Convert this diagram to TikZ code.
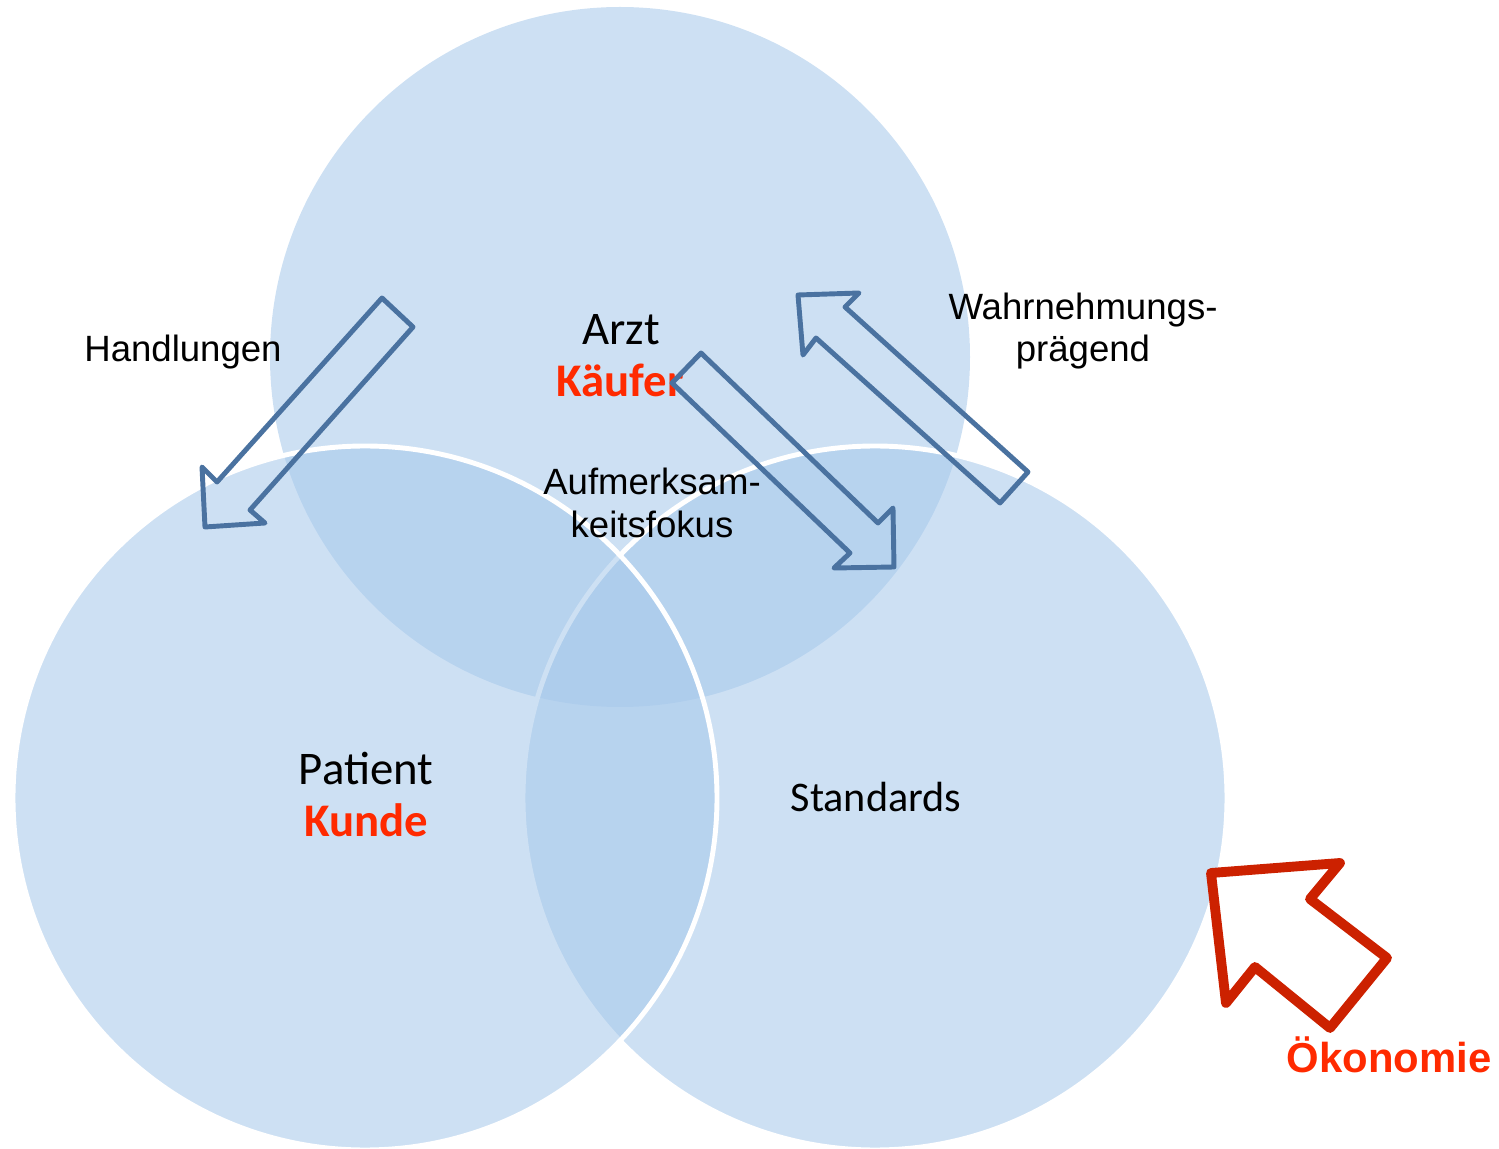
\documentclass[tikz,border=0pt]{standalone}
\usepackage{fontspec}
\setmainfont{Liberation Sans}
\newfontfamily\calibri{Carlito}
\usetikzlibrary{positioning}
\definecolor{vennblue}{RGB}{166,200,234}
\definecolor{arrowblue}{HTML}{4A72A0}
\definecolor{textred}{HTML}{FF2A00}
\definecolor{arrowred}{HTML}{CC2100}

\tikzset{
  lbl/.style={font=\fontsize{10.4}{12}\selectfont, inner sep=0pt, anchor=base},
  rolename/.style={font=\calibri\fontsize{13.3}{16}\selectfont, inner sep=0pt, anchor=base},
  rolered/.style={font=\calibri\bfseries\fontsize{13.3}{16}\selectfont, text=textred, inner sep=0pt, anchor=base},
  blockarrow/.style={draw=arrowblue, line width=1.4pt, line join=round},
  redarrow/.style={draw=arrowred, line width=2.8pt, line join=round}
}

\begin{document}
\begin{tikzpicture}[x=0.01cm, y=-0.01cm]
    \useasboundingbox (0,0) rectangle (1499,1149);

    % Circles: top, right, left
    \fill[vennblue, fill opacity=0.56] (620,357) circle (350);
    \filldraw[fill=vennblue, fill opacity=0.56, draw=white, line width=1.4pt] (875,798) circle (352);
    \filldraw[fill=vennblue, fill opacity=0.56, draw=white, line width=1.4pt] (365,798) circle (352);

    % Labels
    \node[lbl] (handlungen) at (183,362) {Handlungen};
    \node[rolename] (arzt) at (621,345) {Arzt};
    \node[rolered] (kaeufer) at (620,397) {Käufer};
    \node[lbl] (aufm) at (652,495) {Aufmerksam-};
    \node[lbl] (fokus) at (652,538) {keitsfokus};
    \node[lbl] (wahrn) at (1083,320) {Wahrnehmungs-};
    \node[lbl] (praegend) at (1083,362) {prägend};
    \node[rolename] (patient) at (366,785) {Patient};
    \node[rolered] (kunde) at (366,837) {Kunde};
    \node[rolename, font=\calibri\fontsize{12}{14}\selectfont] (standards) at (876,812) {Standards};
    \node[lbl, font=\bfseries\fontsize{11.9}{14}\selectfont, text=textred] (oekonomie) at (1389,1073) {Ökonomie};

    % Block arrows
    \draw[blockarrow] (382,298) -- (413,327) -- (250,510) -- (265,523) -- (205,527) -- (202,467) -- (217,482) -- cycle;
    \draw[blockarrow] (701,353) -- (672,383) -- (850,553) -- (834,568) -- (894,567) -- (893,508) -- (878,523) -- cycle;
    \draw[blockarrow] (798,295) -- (859,293) -- (845,307) -- (1028,472) -- (1000,503) -- (816,338) -- (803,355) -- cycle;

    % Red arrow
    \draw[redarrow] (1211,873) -- (1340,863) -- (1310,899) -- (1387,958) -- (1330,1028) -- (1255,967) -- (1226,1003) -- cycle;
\end{tikzpicture}
\end{document}
